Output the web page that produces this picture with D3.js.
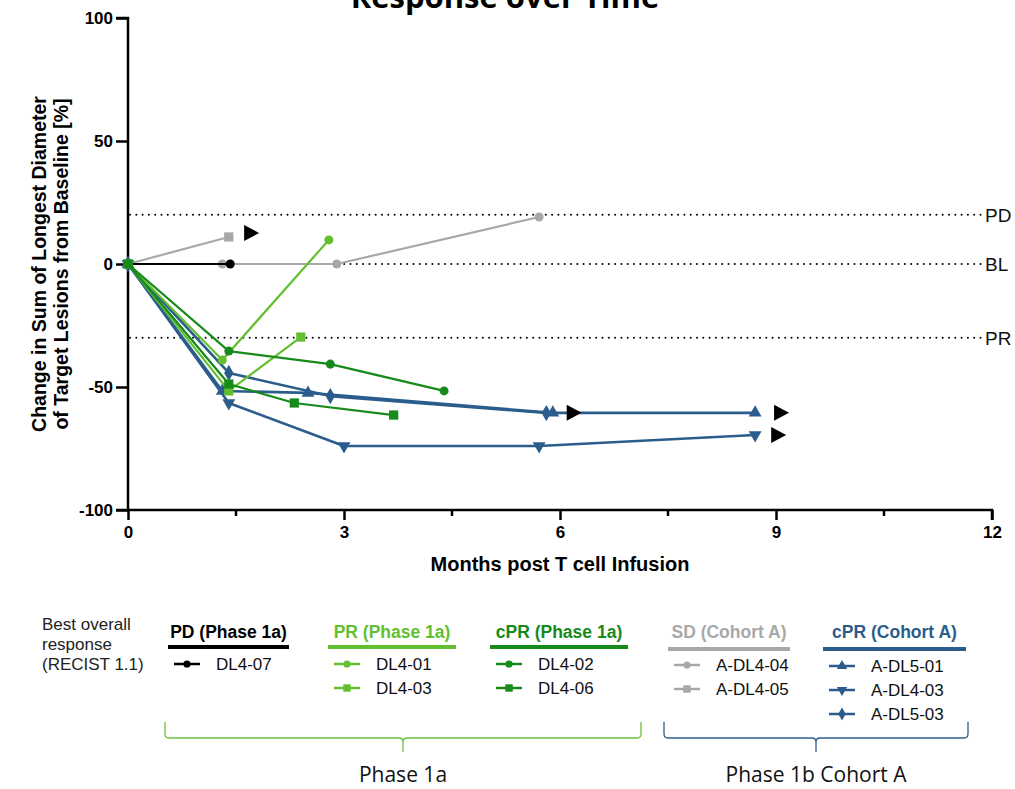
<!DOCTYPE html>
<html>
<head>
<meta charset="utf-8">
<script src="https://cdn.jsdelivr.net/npm/d3@7"></script>
<style>
  html, body { margin: 0; padding: 0; background: #fff; }
  svg { display: block; font-family: "Liberation Sans", Arial, sans-serif; }
</style>
</head>
<body>
<svg id="chart" width="1015" height="789"></svg>
<script>
// ---- Data: % change in sum of longest diameters vs. months post infusion ----
const xTicks = [0, 3, 6, 9, 12];
const xMinorTicks = [1.5, 4.5, 7.5, 10.5];
const yTicks = [100, 50, 0, -50, -100];

const refLines = [
  { label: "PD", value: 20 },
  { label: "BL", value: 0 },
  { label: "PR", value: -30 }
];

// Per-patient series (month, % change)
const dl4_07   = [[0, 0], [1.42, 0]];
const dl4_01   = [[0, 0], [1.31, -39], [2.79, 9.8]];
const dl4_03   = [[0, 0], [1.40, -51.6], [2.40, -29.7]];
const dl4_02   = [[0, 0], [1.40, -35.4], [2.81, -40.7], [4.39, -51.6]];
const dl4_06   = [[0, 0], [1.40, -48.8], [2.31, -56.5], [3.69, -61.4]];
const aDl4_04  = [[0, 0], [1.31, 0], [2.90, 0], [5.71, 19.1]];
const aDl4_05  = [[0, 0], [1.40, 11]];
const aDl5_01  = [[0, 0], [1.31, -51.6], [2.50, -52.4], [5.90, -60.5], [8.71, -60.5]];
const aDl4_03  = [[0, 0], [1.40, -56.5], [3.00, -74], [5.71, -74], [8.71, -69.5]];
const aDl5_03  = [[0, 0], [1.40, -44.3], [2.81, -53.7], [5.81, -60.6]];

// Ongoing-response markers (month, % change)
const ongoing = [[1.71, 12.6], [6.19, -60.5], [9.07, -60.5], [9.03, -69.5]];

const groups = [
  { title: "PD (Phase 1a)",  color: "#000000", members: ["DL4-07"] },
  { title: "PR (Phase 1a)",  color: "#62c030", members: ["DL4-01", "DL4-03"] },
  { title: "cPR (Phase 1a)", color: "#168a1a", members: ["DL4-02", "DL4-06"] },
  { title: "SD (Cohort A)",  color: "#a8a8a8", members: ["A-DL4-04", "A-DL4-05"] },
  { title: "cPR (Cohort A)", color: "#2b5d8c", members: ["A-DL5-01", "A-DL4-03", "A-DL5-03"] }
];

const series = [
  { id: "A-DL4-04", data: aDl4_04, color: "#a8a8a8", symbol: "circle" },
  { id: "A-DL4-05", data: aDl4_05, color: "#a8a8a8", symbol: "square" },
  { id: "DL4-07",   data: dl4_07,  color: "#000000", symbol: "circle" },
  { id: "A-DL5-01", data: aDl5_01, color: "#2b5d8c", symbol: "triUp" },
  { id: "A-DL4-03", data: aDl4_03, color: "#2b5d8c", symbol: "triDown" },
  { id: "A-DL5-03", data: aDl5_03, color: "#2b5d8c", symbol: "diamond" },
  { id: "DL4-01",   data: dl4_01,  color: "#62c030", symbol: "circle" },
  { id: "DL4-03",   data: dl4_03,  color: "#62c030", symbol: "square" },
  { id: "DL4-02",   data: dl4_02,  color: "#168a1a", symbol: "circle" },
  { id: "DL4-06",   data: dl4_06,  color: "#168a1a", symbol: "square" }
];

const symbolOf = id => series.find(s => s.id === id).symbol;

// ---- Layout ----
const svg = d3.select("#chart");
const x = d3.scaleLinear().domain([0, 12]).range([128, 992]);
const y = d3.scaleLinear().domain([-100, 100]).range([510, 18]);

function symbolPath(kind, size) {
  if (kind === "circle") return d3.symbol(d3.symbolCircle, size * 0.75)();
  if (kind === "square") return d3.symbol(d3.symbolSquare, size)();
  if (kind === "diamond") return d3.symbol(d3.symbolDiamond, size * 0.9)();
  return d3.symbol(d3.symbolTriangle, size * 0.85)();
}
function symbolTransform(kind, px, py) {
  return kind === "triDown" ? `translate(${px},${py}) rotate(180)` : `translate(${px},${py})`;
}

// Title
svg.append("text")
  .attr("x", 505).attr("y", 8)
  .attr("text-anchor", "middle")
  .attr("font-family", "'Open Sans', 'Liberation Sans', sans-serif")
  .attr("font-weight", "bold").attr("font-size", 31)
  .text("Response over Time");

// Reference lines
const ref = svg.append("g");
refLines.forEach(r => {
  ref.append("line")
    .attr("x1", x(0) + 2).attr("x2", 984)
    .attr("y1", y(r.value)).attr("y2", y(r.value))
    .attr("stroke", "#000").attr("stroke-width", 2)
    .attr("stroke-dasharray", "0 6.3").attr("stroke-linecap", "round");
  ref.append("text")
    .attr("x", 985).attr("y", y(r.value)).attr("dy", "0.36em")
    .attr("font-size", 19).attr("fill", "#111")
    .text(r.label);
});

// Axes (plain hyphen for negatives)
const plain = d => String(d);
const yAxis = d3.axisLeft(y).tickValues(yTicks).tickSize(12).tickPadding(3).tickFormat(plain);
const gy = svg.append("g").attr("transform", `translate(${x(0)},0)`).call(yAxis);
gy.select(".domain").attr("stroke-width", 2.5).attr("d", `M-12,${y(100)}H0V${y(-100)}H-12`);
gy.selectAll(".tick line").attr("stroke-width", 2.5);
gy.selectAll(".tick text").attr("font-size", 17).attr("font-weight", "bold").attr("fill", "#000")
  .attr("font-family", "'Liberation Sans', Arial, sans-serif");

const xAxis = d3.axisBottom(x).tickValues(xTicks).tickSize(10).tickPadding(6).tickFormat(plain);
const gx = svg.append("g").attr("transform", `translate(0,${y(-100)})`).call(xAxis);
gx.select(".domain").attr("stroke-width", 2.5).attr("d", `M${x(0)},0H${x(12)}V10`);
gx.selectAll(".tick line").attr("stroke-width", 2.5);
gx.selectAll(".tick text").attr("font-size", 17).attr("font-weight", "bold").attr("fill", "#000")
  .attr("font-family", "'Liberation Sans', Arial, sans-serif");
gx.selectAll(".minor").data(xMinorTicks).enter().append("line")
  .attr("x1", d => x(d)).attr("x2", d => x(d))
  .attr("y1", 0).attr("y2", 6)
  .attr("stroke", "#000").attr("stroke-width", 2.5);

// Axis titles
svg.append("text")
  .attr("x", 560).attr("y", 571)
  .attr("text-anchor", "middle")
  .attr("font-size", 20).attr("font-weight", "bold")
  .attr("font-family", "'Liberation Sans', Arial, sans-serif")
  .text("Months post T cell Infusion");

const yt = svg.append("text")
  .attr("transform", `translate(0,${y(0)}) rotate(-90)`)
  .attr("text-anchor", "middle")
  .attr("font-size", 19.5).attr("font-weight", "bold");
yt.append("tspan").attr("x", 0).attr("y", 46).text("Change in Sum of Longest Diameter");
yt.append("tspan").attr("x", 0).attr("y", 68).text("of Target Lesions from Baseline [%]");

// Series lines and markers
const line = d3.line().x(d => x(d[0])).y(d => y(d[1]));
const plot = svg.append("g");
series.forEach(s => {
  plot.append("path")
    .datum(s.data)
    .attr("d", line)
    .attr("fill", "none")
    .attr("stroke", s.color)
    .attr("stroke-width", s.color === "#2b5d8c" ? 2.6 : 2.2)
    .attr("stroke-linejoin", "round");
  plot.selectAll(null).data(s.data).enter().append("path")
    .attr("d", symbolPath(s.symbol, 85))
    .attr("transform", d => symbolTransform(s.symbol, x(d[0]), y(d[1])))
    .attr("fill", s.color);
});

// Ongoing response arrows
plot.selectAll(".ongoing").data(ongoing).enter().append("path")
  .attr("d", "M-7,-8L8,0L-7,8Z")
  .attr("transform", d => `translate(${x(d[0])},${y(d[1])})`)
  .attr("fill", "#000");

// ---- Legend ----
const leg = svg.append("g");
const intro = leg.append("text").attr("font-size", 17).attr("fill", "#222");
["Best overall", "response", "(RECIST 1.1)"].forEach((t, i) =>
  intro.append("tspan").attr("x", 42).attr("y", 630 + i * 20).text(t));

const groupX = [[168, 289], [328, 456], [490, 628], [668, 790], [823, 966]];
const rowY0 = [664, 664, 664, 665, 666];
groups.forEach((g, gi) => {
  const [x0, x1] = groupX[gi];
  const cx = (x0 + x1) / 2;
  leg.append("text")
    .attr("x", cx).attr("y", 638)
    .attr("text-anchor", "middle")
    .attr("font-size", 17.5).attr("font-weight", "bold")
    .attr("fill", g.color)
    .text(g.title);
  leg.append("line")
    .attr("x1", x0).attr("x2", x1)
    .attr("y1", 647 + (gi > 2 ? 2 : 0)).attr("y2", 647 + (gi > 2 ? 2 : 0))
    .attr("stroke", g.color).attr("stroke-width", 4);
  g.members.forEach((m, mi) => {
    const ry = rowY0[gi] + mi * 24;
    const lx = x0 + 6;
    leg.append("line")
      .attr("x1", lx).attr("x2", lx + 26)
      .attr("y1", ry).attr("y2", ry)
      .attr("stroke", g.color).attr("stroke-width", 2.5);
    const k = symbolOf(m);
    leg.append("path")
      .attr("d", symbolPath(k, 55))
      .attr("transform", symbolTransform(k, lx + 13, ry))
      .attr("fill", g.color);
    leg.append("text")
      .attr("x", lx + 42).attr("y", ry).attr("dy", "0.36em")
      .attr("font-size", 17).attr("fill", "#111")
      .text(m);
  });
});

// Phase braces
const braces = [
  { x0: 165, x1: 641, xc: 403, color: "#6cc23c", label: "Phase 1a" },
  { x0: 664, x1: 968, xc: 816, color: "#2b5d8c", label: "Phase 1b Cohort A" }
];
braces.forEach(b => {
  const top = 722, mid = 738, tip = 752, r = 4;
  const p = d3.path();
  p.moveTo(b.x0, top);
  p.lineTo(b.x0, mid - r);
  p.quadraticCurveTo(b.x0, mid, b.x0 + r, mid);
  p.lineTo(b.xc - r, mid);
  p.quadraticCurveTo(b.xc, mid, b.xc, mid + r);
  p.lineTo(b.xc, tip);
  p.moveTo(b.xc, mid + r);
  p.quadraticCurveTo(b.xc, mid, b.xc + r, mid);
  p.lineTo(b.x1 - r, mid);
  p.quadraticCurveTo(b.x1, mid, b.x1, mid - r);
  p.lineTo(b.x1, top);
  leg.append("path").attr("d", p.toString())
    .attr("fill", "none").attr("stroke", b.color).attr("stroke-width", 1.3);
  leg.append("text")
    .attr("x", b.xc).attr("y", 782)
    .attr("text-anchor", "middle")
    .attr("font-family", "'Open Sans', 'Liberation Sans', sans-serif")
    .attr("font-size", 21).attr("fill", "#111")
    .text(b.label);
});
</script>
</body>
</html>
